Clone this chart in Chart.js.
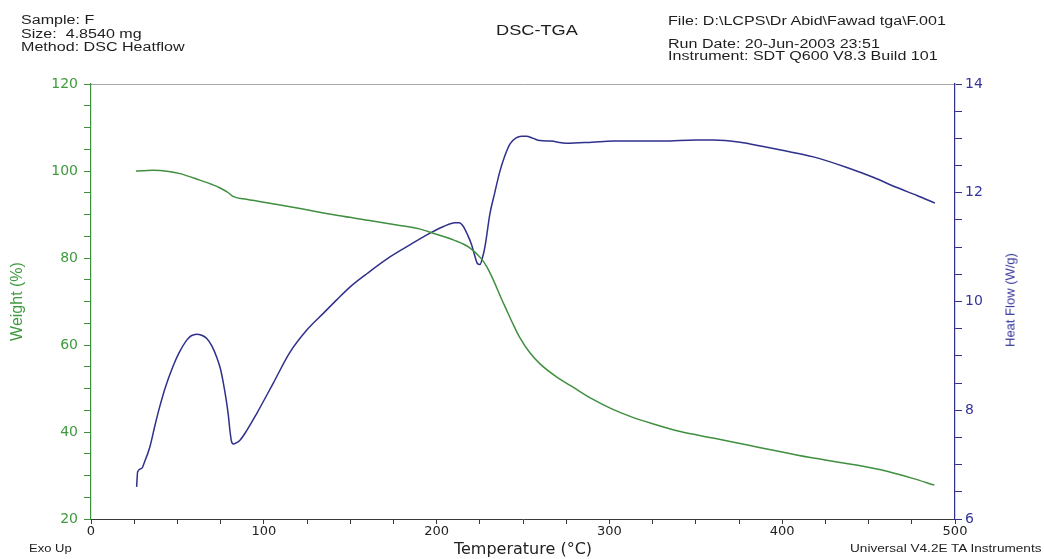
<!DOCTYPE html>
<html>
<head>
<meta charset="utf-8">
<script src="https://cdn.jsdelivr.net/npm/chart.js"></script>
<style>
  html, body { margin: 0; padding: 0; background: #fff; }
  #wrap { position: relative; width: 1044px; height: 559px; overflow: hidden; }
  canvas { position: absolute; left: 0; top: 0; }
  .t { position: absolute; white-space: nowrap; font-family: "Liberation Sans", Arial, sans-serif; color: #1e1e1e; transform-origin: 0 0; }
  .h { font-size: 12px; line-height: 14px; transform: scaleX(1.34); }
  #hf { position: absolute; left: 1010px; top: 300px; white-space: nowrap; font-family: "Liberation Sans", Arial, sans-serif;
        font-size: 13px; line-height: 15px; color: #34349a; transform: translate(-50%, -50%) rotate(-90deg); }
</style>
</head>
<body>
<div id="wrap">
  <canvas id="c" width="1044" height="559"></canvas>
  <div class="t h" style="left:21px; top:13px;">Sample: F</div>
  <div class="t h" style="left:21px; top:27px;">Size:&nbsp; 4.8540 mg</div>
  <div class="t h" style="left:21px; top:40px;">Method: DSC Heatflow</div>
  <div class="t" style="left:496px; top:22px; font-size:14px; line-height:16px; transform:scaleX(1.3);">DSC-TGA</div>
  <div class="t h" style="left:668px; top:14px;">File: D:\LCPS\Dr Abid\Fawad tga\F.001</div>
  <div class="t h" style="left:668px; top:37px;">Run Date: 20-Jun-2003 23:51</div>
  <div class="t h" style="left:668px; top:49px;">Instrument: SDT Q600 V8.3 Build 101</div>
  <div class="t" style="left:29px; top:543px; font-size:10px; line-height:12px; transform:scaleX(1.3);">Exo Up</div>
  <div class="t" style="left:850px; top:543px; font-size:10px; line-height:12px; transform:scaleX(1.36);">Universal V4.2E TA Instruments</div>
  <div id="hf">Heat Flow (W/g)</div>
</div>
<script>
// ---- Data ----
const weightTemps = [26.0, 30, 36, 45, 51.5, 63, 70, 74.7, 79.5, 82.4, 90, 109.4, 130, 144, 160, 177, 190, 198, 210, 219, 226, 229, 233, 237, 241, 244, 248, 254, 260, 270, 279, 290, 302, 312, 325, 341, 360, 380, 400, 418, 440, 457, 475, 488];
const weightValues = [100.0, 100.05, 100.2, 99.9, 99.4, 97.9, 96.9, 96.1, 95.0, 94.1, 93.5, 92.2, 90.7, 89.7, 88.7, 87.6, 86.7, 85.7, 84.1, 82.4, 79.8, 78.0, 74.8, 71.1, 67.6, 65.0, 61.8, 58.2, 55.6, 52.5, 50.3, 47.6, 45.2, 43.6, 41.9, 40.1, 38.6, 37.0, 35.4, 34.0, 32.6, 31.3, 29.4, 27.8];

const heatTemps = [26.4, 27.0, 29.3, 31, 34.1, 37, 39.9, 43, 47.6, 51, 55.4, 58, 61.2, 64, 67.0, 70, 72.7, 75, 76.6, 78.2, 79.5, 80.5, 81.3, 82.4, 84, 86.2, 90, 95.9, 105.5, 115, 125, 135, 142.2, 150, 160, 173, 185, 197, 204, 210.6, 213, 215.5, 218, 220.3, 222, 223.6, 225.1, 226.5, 228.0, 230.9, 233.5, 236.5, 239.5, 242.5, 246, 249.2, 252, 255.9, 259.8, 266, 275.3, 290, 302.3, 331, 350, 360, 375.6, 389, 400, 418, 437, 453, 466, 478, 488.4];
const heatValues = [6.59, 6.87, 6.93, 7.05, 7.33, 7.72, 8.08, 8.42, 8.82, 9.06, 9.29, 9.37, 9.40, 9.38, 9.32, 9.18, 8.98, 8.75, 8.50, 8.20, 7.90, 7.60, 7.43, 7.38, 7.40, 7.45, 7.62, 7.94, 8.50, 9.06, 9.48, 9.80, 10.03, 10.27, 10.52, 10.82, 11.05, 11.27, 11.38, 11.45, 11.45, 11.38, 11.22, 11.04, 10.85, 10.70, 10.68, 10.80, 11.01, 11.62, 11.98, 12.38, 12.68, 12.90, 13.01, 13.04, 13.04, 13.00, 12.96, 12.95, 12.91, 12.93, 12.95, 12.95, 12.97, 12.97, 12.93, 12.85, 12.78, 12.66, 12.47, 12.28, 12.10, 11.95, 11.81];

const xRange = [0, 500];
const weightRange = [20, 120];
const heatRange = [6, 14];
const xMajorStep = 100, xMinorStep = 25;
const weightMajorStep = 20, weightMinorStep = 5;
const heatMajorStep = 2, heatMinorStep = 0.5;

// ---- Styles ----
const GREEN_LINE = '#3f8f3f';
const GREEN_TEXT = '#3f9a3f';
const BLUE_LINE = '#2f2f8c';
const BLUE_TEXT = '#34349a';
const AXIS_DARK = '#3a3a3a';

const isMajor = (v, step) => Math.abs(v / step - Math.round(v / step)) < 1e-6;

new Chart(document.getElementById('c'), {
  type: 'line',
  data: {
    datasets: [
      {
        label: 'Weight (%)',
        data: weightTemps.map((t, i) => ({ x: t, y: weightValues[i] })),
        yAxisID: 'y',
        xAxisID: 'x',
        borderColor: GREEN_LINE,
        borderWidth: 1.5,
        pointRadius: 0,
        fill: false,
        cubicInterpolationMode: 'monotone'
      },
      {
        label: 'Heat Flow (W/g)',
        data: heatTemps.map((t, i) => ({ x: t, y: heatValues[i] })),
        yAxisID: 'y2',
        xAxisID: 'x',
        borderColor: BLUE_LINE,
        borderWidth: 1.5,
        pointRadius: 0,
        fill: false,
        cubicInterpolationMode: 'monotone'
      }
    ]
  },
  options: {
    responsive: false,
    animation: false,
    layout: { padding: { top: 84, left: 0, right: 0, bottom: 0 } },
    plugins: { legend: { display: false }, tooltip: { enabled: false }, title: { display: false } },
    scales: {
      x: {
        type: 'linear',
        position: 'bottom',
        min: xRange[0], max: xRange[1],
        afterFit: s => { s.height = 40; },
        grid: { drawOnChartArea: false, drawTicks: true, tickLength: 5, tickColor: AXIS_DARK },
        border: { display: true, color: AXIS_DARK, width: 1 },
        ticks: {
          stepSize: xMinorStep, autoSkip: false, maxRotation: 0, padding: 0,
          color: '#222', font: { family: 'DejaVu Sans', size: 13 },
          callback: v => isMajor(v, xMajorStep) ? String(v) : ''
        },
        title: {
          display: true, text: 'Temperature (°C)', color: '#222',
          font: { family: 'DejaVu Sans', size: 16 }, padding: { top: 0, bottom: 0 }
        }
      },
      xTop: {
        type: 'linear',
        position: 'top',
        min: xRange[0], max: xRange[1],
        afterFit: s => { s.height = 0; },
        grid: { drawOnChartArea: false, drawTicks: false },
        border: { display: true, color: '#a8a8a8', width: 1 },
        ticks: { display: false }
      },
      y: {
        type: 'linear',
        position: 'left',
        min: weightRange[0], max: weightRange[1],
        afterFit: s => { s.width = 91; },
        grid: { drawOnChartArea: false, drawTicks: true, tickLength: 7, tickColor: GREEN_LINE },
        border: { display: true, color: GREEN_LINE, width: 1.2 },
        ticks: {
          stepSize: weightMinorStep, autoSkip: false, padding: 6,
          color: GREEN_TEXT, font: { family: 'DejaVu Sans', size: 14 },
          callback: v => isMajor(v, weightMajorStep) ? String(v) : ''
        },
        title: {
          display: true, text: 'Weight (%)', color: GREEN_TEXT,
          font: { family: 'Liberation Sans', size: 16 }, padding: { top: 8, bottom: 0 }
        }
      },
      y2: {
        type: 'linear',
        position: 'right',
        min: heatRange[0], max: heatRange[1],
        afterFit: s => { s.width = 89; },
        grid: { drawOnChartArea: false, drawTicks: true, tickLength: 7, tickColor: BLUE_LINE },
        border: { display: true, color: BLUE_LINE, width: 1.2 },
        ticks: {
          stepSize: heatMinorStep, autoSkip: false, padding: 3,
          color: BLUE_TEXT, font: { family: 'DejaVu Sans', size: 14 },
          callback: v => isMajor(v, heatMajorStep) ? String(v) : ''
        },
        title: { display: false }
      }
    }
  }
});
</script>
</body>
</html>
